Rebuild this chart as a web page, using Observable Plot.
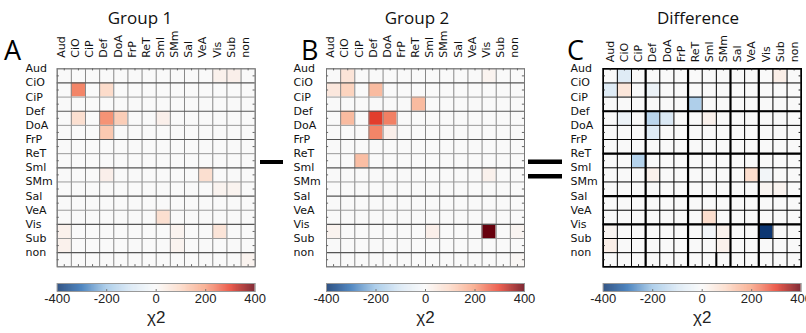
<!DOCTYPE html>
<html><head><meta charset="utf-8">
<script src="https://cdn.jsdelivr.net/npm/d3@7"></script>
<script src="https://cdn.jsdelivr.net/npm/@observablehq/plot@0.6"></script>
<style>
body{margin:0;background:#fff;}
#root{position:relative;width:806px;height:333px;overflow:hidden;background:#fff;}
#root svg{position:absolute;left:0;top:0;max-width:none;}
</style></head><body><div id="root"></div>
<script>
const labels = ["Aud","CiO","CiP","Def","DoA","FrP","ReT","Sml","SMm","Sal","VeA","Vis","Sub","non"];
const titles = ["Group 1","Group 2","Difference"];
const letters = ["A","B","C"];
const colorTicks = [-400,-200,0,200,400];
const colorLabel = "χ2";
// [row, column, chi2]
const group1 = [
  ["Aud","Vis",25],["Aud","Sub",30],
  ["CiO","CiO",230],["CiO","Def",90],
  ["Def","CiO",80],["Def","Def",215],["Def","DoA",120],["Def","Sml",30],
  ["DoA","Def",130],
  ["Sml","Def",30],["Sml","VeA",80],
  ["SMm","Vis",20],["SMm","Sub",20],
  ["VeA","Sml",80],
  ["Vis","Aud",25],["Vis","SMm",20],["Vis","Vis",65],
  ["Sub","Aud",25],["Sub","SMm",20],
  ["non","non",20]
];
const group2 = [
  ["Aud","CiO",65],["Aud","Vis",20],
  ["CiO","Aud",55],["CiO","CiO",110],["CiO","Def",155],
  ["CiP","ReT",155],
  ["Def","CiO",155],["Def","Def",305],["Def","DoA",235],
  ["DoA","Def",230],["DoA","DoA",30],
  ["ReT","CiP",150],
  ["Sml","Vis",25],
  ["Vis","Aud",20],["Vis","Sml",30],["Vis","Vis",400],["Vis","non",15],
  ["non","non",10]
];
const difference = [
  ["Aud","CiO",-80],["Aud","Sub",35],
  ["CiO","Aud",-80],["CiO","CiO",60],["CiO","Def",-40],
  ["CiP","ReT",-170],
  ["Def","CiO",-40],["Def","Def",-150],["Def","DoA",-90],["Def","Sml",25],
  ["DoA","Def",-80],
  ["ReT","CiP",-160],
  ["Sml","Def",25],["Sml","VeA",85],["Sml","Vis",-20],
  ["SMm","Vis",15],["SMm","Sub",20],
  ["VeA","Sml",85],
  ["Vis","Aud",15],["Vis","Sml",-20],["Vis","SMm",25],["Vis","Vis",-390],
  ["Sub","Aud",35],["Sub","SMm",25]
];
const moduleBreaks = [3,6,9,11];

const colorScale = {
  type: "linear",
  domain: [-400,-300,-200,-100,0,100,200,300,400],
  range: ["#08306b","#2f6fb3","#9ec5e6","#d8e7f4","#f9f9f9","#fcd9c6","#f7a281","#e8402e","#67000d"],
  clamp: true
};

function buildCells(list){
  const lookup = new Map(list.map(([r,c,v]) => [r+"|"+c, v]));
  return labels.flatMap((rl,i) => labels.map((cl,j) => ({r:i, c:j, v: lookup.get(rl+"|"+cl) ?? 0})));
}

const SIZE = 198, TOP = 68.3;
const labelFont = "DejaVu Sans";

function panel(list, o){
  const centers = d3.range(14).map(i => i + 0.5);
  const bounds = d3.range(15);
  const marks = [
    Plot.rect(buildCells(list), {x1: "c", x2: d => d.c + 1, y1: "r", y2: d => d.r + 1, fill: "v"})
  ];
  if (o.bold) {
    marks.push(Plot.ruleX(bounds, {stroke: "#000", strokeWidth: 1}));
    marks.push(Plot.ruleY(bounds, {stroke: "#000", strokeWidth: 1}));
    marks.push(Plot.ruleX(moduleBreaks, {stroke: "#000", strokeWidth: 2.2}));
    marks.push(Plot.ruleY(moduleBreaks, {stroke: "#000", strokeWidth: 2.2}));
    marks.push(Plot.ruleX([8], {y1: 13, y2: 14, stroke: "#000", strokeWidth: 2}));
    marks.push(Plot.frame({stroke: "#000", strokeWidth: 1.6}));
  } else {
    marks.push(Plot.ruleX(bounds, {stroke: "#888", strokeWidth: 1}));
    marks.push(Plot.ruleY(bounds.filter(b => b % 2 === 0), {stroke: "#999", strokeWidth: 1}));
    marks.push(Plot.ruleY(bounds.filter(b => b % 2 === 1), {stroke: "#555", strokeWidth: 1.2}));
    marks.push(Plot.frame({stroke: "#777", strokeWidth: 1}));
  }
  const tk = o.bold ? "#222" : "#666";
  marks.push(Plot.ruleX(centers, {y1: 0, y2: 0.15, stroke: tk}));
  marks.push(Plot.ruleX(centers, {y1: 13.85, y2: 14, stroke: tk}));
  marks.push(Plot.ruleY(centers, {x1: 0, x2: 0.15, stroke: tk}));
  marks.push(Plot.ruleY(centers, {x1: 13.85, x2: 14, stroke: tk}));
  marks.push(Plot.text(labels, {y: (d,i) => i, text: d => d, frameAnchor: "left", textAnchor: "start",
    dx: o.rowX - o.left, fontSize: 11, fontFamily: labelFont, fill: "#111"}));
  marks.push(Plot.text(labels, {x: (d,i) => i, text: d => d, frameAnchor: "top", rotate: -90, textAnchor: "start",
    dy: o.colDy, dx: o.colDx, fontSize: 11, fontFamily: labelFont, fill: "#111"}));
  return Plot.plot({
    width: 806, height: 333,
    marginLeft: o.left, marginRight: 806 - o.left - SIZE, marginTop: TOP, marginBottom: 333 - TOP - SIZE,
    x: {domain: [0,14], axis: null},
    y: {domain: [0,14], reverse: true, axis: null},
    color: colorScale,
    style: {background: "transparent", overflow: "visible"},
    marks
  });
}

function colorbar(left){
  const steps = d3.range(-400, 400, 2);
  return Plot.plot({
    width: 806, height: 333,
    marginLeft: left, marginRight: 806 - left - SIZE, marginTop: 283, marginBottom: 333 - 291,
    x: {domain: [-400,400], axis: null},
    y: {domain: [0,1], axis: null},
    color: colorScale,
    style: {background: "transparent", overflow: "visible"},
    marks: [
      Plot.rect(steps, {x1: d => d, x2: d => d + 2.5, y1: 0, y2: 1, fill: d => d + 1, clip: true}),
      Plot.frame({stroke: "#999"}),
      Plot.ruleX(colorTicks.slice(1,-1), {y1: 0, y2: 0.25, stroke: "#777"}),
      Plot.text(colorTicks, {x: d => d, frameAnchor: "bottom", dy: 11, text: d => String(d),
        fontSize: 13, fontFamily: "Liberation Sans Narrow, Liberation Sans", fill: "#222"}),
      Plot.text([colorLabel], {frameAnchor: "bottom", dy: 31, text: d => d, fontSize: 17,
        fontFamily: "Liberation Sans Narrow, Liberation Sans", fill: "#222"})
    ]
  });
}

const root = document.getElementById("root");
const panels = [
  {data: group1, left: 56.7, rowX: 25, colDx: 0, colDy: -11, bold: false},
  {data: group2, left: 326, rowX: 293, colDx: 0, colDy: -11, bold: false},
  {data: difference, left: 602.7, rowX: 570, colDx: 3, colDy: -6.5, bold: true}
];
panels.forEach(p => {
  root.appendChild(panel(p.data, p));
  root.appendChild(colorbar(p.left));
});

// titles, panel letters and the − / = operators
const overlay = d3.create("svg").attr("width", 806).attr("height", 333);
overlay.selectAll("text.title").data(titles).join("text")
  .attr("x", (d,i) => [140, 417, 698][i]).attr("y", 24)
  .attr("text-anchor", "middle").attr("font-family", "Open Sans").attr("font-size", 17).attr("fill", "#111")
  .text(d => d);
overlay.selectAll("text.letter").data(letters).join("text")
  .attr("x", (d,i) => [4, 301, 567][i]).attr("y", 60)
  .attr("font-family", "Open Sans").attr("font-size", 27).attr("fill", "#000")
  .text(d => d);
overlay.append("rect").attr("x", 260).attr("y", 160).attr("width", 23).attr("height", 4).attr("fill", "#000");
overlay.append("rect").attr("x", 528).attr("y", 159.5).attr("width", 34).attr("height", 4.5).attr("fill", "#000");
overlay.append("rect").attr("x", 528).attr("y", 174).attr("width", 34).attr("height", 4.5).attr("fill", "#000");
root.appendChild(overlay.node());
</script></body></html>
